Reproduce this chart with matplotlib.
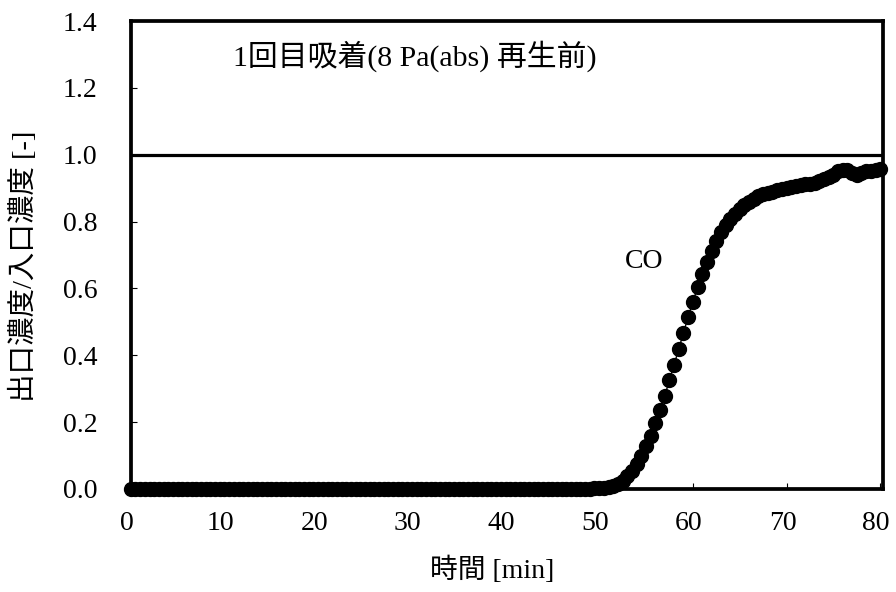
import matplotlib
matplotlib.use("Agg")
import matplotlib.pyplot as plt
import matplotlib.transforms as mtransforms

plt.rcParams['font.family'] = ['Liberation Serif', 'Noto Sans CJK JP']

# time [min], sampled every 0.5 min from 0 to 80
time_min = [i * 0.5 for i in range(161)]
# outlet/inlet concentration ratio (zeros until ~48 min)
ratio_zero = [0.0] * 96  # 0.0 .. 47.5 min
ratio_rise = [
    0.0, 0.001, 0.001, 0.002, 0.003, 0.004, 0.006, 0.010, 0.016, 0.025,
    0.038, 0.055, 0.076, 0.100, 0.128, 0.160, 0.196, 0.236, 0.279, 0.325,
    0.372, 0.420, 0.468, 0.515, 0.560, 0.603, 0.644, 0.680, 0.713, 0.743,
    0.768, 0.790, 0.808, 0.824, 0.838, 0.849, 0.858, 0.867, 0.876, 0.882,
    0.885, 0.889, 0.893, 0.897, 0.900, 0.904, 0.906, 0.909, 0.911, 0.912,
    0.915, 0.921, 0.928, 0.932, 0.940, 0.950, 0.955, 0.953, 0.945, 0.940,
    0.944, 0.950, 0.952, 0.955, 0.958,
]
co_ratio = ratio_zero + ratio_rise

x_ticks = [0, 10, 20, 30, 40, 50, 60, 70, 80]
y_ticks = [0.0, 0.2, 0.4, 0.6, 0.8, 1.0, 1.2, 1.4]
y_tick_labels = ['0.0', '0.2', '0.4', '0.6', '0.8', '1.0', '1.2', '1.4']

title_text = '1回目吸着(8 Pa(abs) 再生前)'
series_label = 'CO'
x_label = '時間 [min]'
y_label = '出口濃度/入口濃度 [-]'

fig = plt.figure(figsize=(8.96, 5.92), dpi=100)
ax = fig.add_axes([0.146, 0.174, 0.8395, 0.7905])

ax.plot(time_min, co_ratio, color='black', lw=1.0, marker='o',
        markersize=10, markerfacecolor='black', markeredgecolor='black',
        clip_on=False, zorder=3)
ax.axhline(1.0, color='black', lw=2.3, zorder=2)

ax.set_xlim(0, 80.3)
ax.set_ylim(0, 1.4)
ax.set_xticks(x_ticks)
ax.set_yticks(y_ticks)
ax.set_yticklabels(y_tick_labels)
ax.tick_params(direction='in', length=4, width=0.8, labelsize=20,
               top=False, right=False)
ax.tick_params(axis='x', pad=16)
ax.tick_params(axis='y', pad=24)
for s in ax.spines.values():
    s.set_linewidth(2.7)

shift = mtransforms.ScaledTranslation(-4 / 100, 0, fig.dpi_scale_trans)
for lab in ax.get_xticklabels():
    lab.set_transform(lab.get_transform() + shift)

ax.text(10.9, 1.295, title_text, fontsize=21.5, ha='left', va='center')
ax.text(54.8, 0.68, series_label, fontsize=20, ha='center', va='center')

ax.set_xlabel(x_label, fontsize=20)
ax.set_ylabel(y_label, fontsize=20.5)
ax.xaxis.set_label_coords(0.481, -0.145)
ax.yaxis.set_label_coords(-0.1237, 0.4765)

fig.savefig('out.png', dpi=100)
